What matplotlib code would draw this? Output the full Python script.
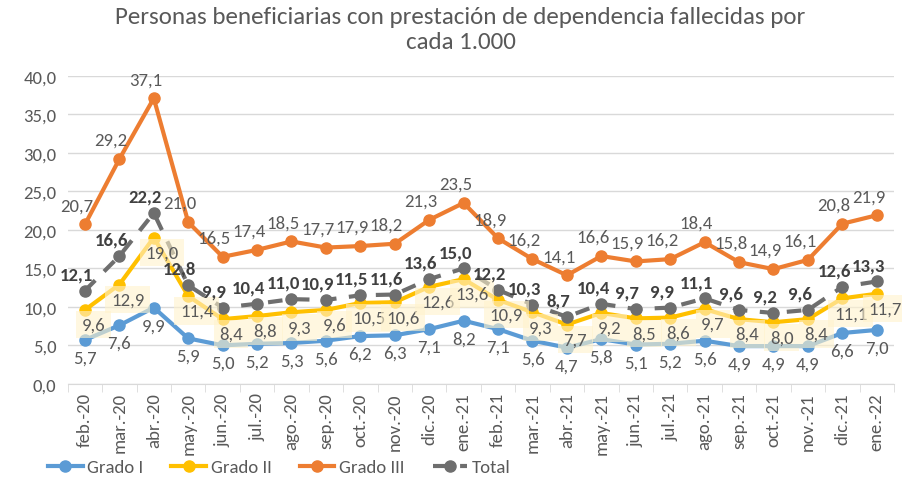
import matplotlib
matplotlib.use("Agg")
import matplotlib.pyplot as plt
import numpy as np

plt.rcParams['font.family'] = ['Carlito', 'Liberation Sans', 'DejaVu Sans']

categories = ["feb.-20", "mar.-20", "abr.-20", "may.-20", "jun.-20", "jul.-20", "ago.-20", "sep.-20",
              "oct.-20", "nov.-20", "dic.-20", "ene.-21", "feb.-21", "mar.-21", "abr.-21", "may.-21",
              "jun.-21", "jul.-21", "ago.-21", "sep.-21", "oct.-21", "nov.-21", "dic.-21", "ene.-22"]
grado1 = [5.7, 7.6, 9.9, 5.9, 5.0, 5.2, 5.3, 5.6, 6.2, 6.3, 7.1, 8.2, 7.1, 5.6, 4.7, 5.8, 5.1, 5.2, 5.6, 4.9, 4.9, 4.9, 6.6, 7.0]
grado2 = [9.6, 12.9, 19.0, 11.4, 8.4, 8.8, 9.3, 9.6, 10.5, 10.6, 12.6, 13.6, 10.9, 9.3, 7.7, 9.2, 8.5, 8.6, 9.7, 8.4, 8.0, 8.4, 11.1, 11.7]
grado3 = [20.7, 29.2, 37.1, 21.0, 16.5, 17.4, 18.5, 17.7, 17.9, 18.2, 21.3, 23.5, 18.9, 16.2, 14.1, 16.6, 15.9, 16.2, 18.4, 15.8, 14.9, 16.1, 20.8, 21.9]
total = [12.1, 16.6, 22.2, 12.8, 9.9, 10.4, 11.0, 10.9, 11.5, 11.6, 13.6, 15.0, 12.2, 10.3, 8.7, 10.4, 9.7, 9.9, 11.1, 9.6, 9.2, 9.6, 12.6, 13.3]
yticks = [0, 5, 10, 15, 20, 25, 30, 35, 40]

c1 = "#5B9BD5"
c2 = "#FFC000"
c3 = "#ED7D31"
ct = "#6E6E6E"
txt = "#595959"

def fmt(v):
    return f"{v:.1f}".replace(".", ",")

fig = plt.figure(figsize=(9.03, 4.81), dpi=100)
ax = fig.add_axes([0.075, 0.2, 0.915, 0.64])
x = np.arange(len(categories))

ax.plot(x, grado1, color=c1, lw=3, marker='o', ms=8, label="Grado I", zorder=3)
ax.plot(x, grado2, color=c2, lw=3, marker='o', ms=8, label="Grado II", zorder=3)
ax.plot(x, grado3, color=c3, lw=3, marker='o', ms=8, label="Grado III", zorder=3)
ax.plot(x, total, color=ct, lw=3, marker='o', ms=8, ls=(0, (3.5, 3)), label="Total", zorder=4)

fs = 13.5
for i in range(len(x)):
    ax.annotate(fmt(grado3[i]), (x[i], grado3[i]), xytext=(-6, 8), textcoords='offset points',
                ha='center', va='bottom', fontsize=fs, color=txt, zorder=6)
    ax.annotate(fmt(grado1[i]), (x[i], grado1[i]), xytext=(0, -7), textcoords='offset points',
                ha='center', va='top', fontsize=fs, color=txt, zorder=6)
    ax.annotate(fmt(grado2[i]), (x[i], grado2[i]), xytext=(6, -5), textcoords='offset points',
                ha='center', va='top', fontsize=fs, color=txt, zorder=5,
                bbox=dict(boxstyle='square,pad=0.3', fc='#FFF2CC', ec='none', alpha=0.6))
    ax.annotate(fmt(total[i]), (x[i], total[i]), xytext=(-6, 6), textcoords='offset points',
                ha='center', va='bottom', fontsize=fs, color='#404040', fontweight='bold', zorder=6)

ax.set_xlim(-0.5, len(x) - 0.5)
ax.set_ylim(0, 40)
ax.set_yticks(yticks)
ax.set_yticklabels([fmt(v) for v in yticks], fontsize=13.5, color=txt)
ax.set_xticks(x)
ax.set_xticklabels(categories, rotation=90, fontsize=13.5, color=txt)
ax.set_xticks(np.arange(-0.5, len(x)), minor=True)
ax.tick_params(axis='x', which='major', length=0, pad=6)
ax.tick_params(axis='x', which='minor', length=6, color='#D9D9D9')
ax.tick_params(axis='y', length=0, pad=8)
ax.grid(axis='y', color='#D9D9D9', lw=1)
ax.set_axisbelow(True)
for s in ['top', 'right', 'left']:
    ax.spines[s].set_visible(False)
ax.spines['bottom'].set_color('#D9D9D9')

fig.suptitle("Personas beneficiarias con prestación de dependencia fallecidas por\ncada 1.000",
             fontsize=18, color=txt, y=0.985, x=0.51)

leg = fig.legend(loc='lower left', bbox_to_anchor=(0.053, 0.01), ncol=4, frameon=False,
                 fontsize=13.5, handlelength=1.85, handletextpad=0.25, columnspacing=1.5,
                 borderpad=0, borderaxespad=0)
for t in leg.get_texts():
    t.set_color(txt)

fig.savefig("out.png", dpi=100)
